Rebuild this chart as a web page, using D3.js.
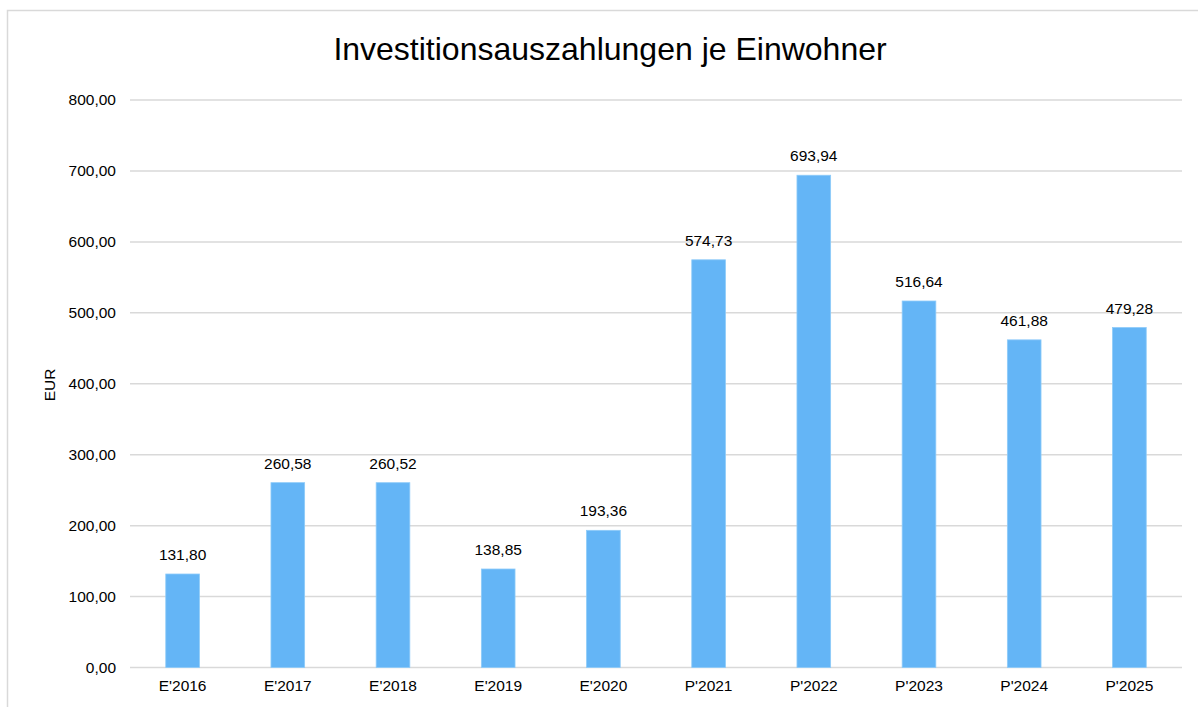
<!DOCTYPE html>
<html>
<head>
<meta charset="utf-8">
<title>Investitionsauszahlungen je Einwohner</title>
<script src="https://d3js.org/d3.v7.min.js"></script>
<style>
  body { margin: 0; background: #fff; }
  svg { font-family: "Liberation Sans", Arial, sans-serif; }
</style>
</head>
<body>
<svg id="chart" width="1198" height="707"></svg>
<script>
// data
var categories = ["E'2016", "E'2017", "E'2018", "E'2019", "E'2020", "P'2021", "P'2022", "P'2023", "P'2024", "P'2025"];
var values = [131.80, 260.58, 260.52, 138.85, 193.36, 574.73, 693.94, 516.64, 461.88, 479.28];
var yTicks = [0, 100, 200, 300, 400, 500, 600, 700, 800];

var svg = d3.select('#chart');
var fmt = function(v) { return d3.format('.2f')(v).replace('.', ','); };
var fs = 15.5;

// chart frame
svg.append('path')
  .attr('d', 'M7.5,710 V10.5 H1200')
  .attr('fill', 'none')
  .attr('stroke', '#d9d9d9')
  .attr('stroke-width', 1.5);

var x = d3.scaleBand()
  .domain(categories)
  .range([130, 1182])
  .paddingInner(0.68)
  .paddingOuter(0.34);

var y = d3.scaleLinear()
  .domain([0, 800])
  .range([667.5, 100]);

// gridlines
svg.append('g')
  .selectAll('line')
  .data(yTicks)
  .join('line')
  .attr('x1', 130)
  .attr('x2', 1182)
  .attr('y1', function(d) { return y(d); })
  .attr('y2', function(d) { return y(d); })
  .attr('stroke', '#d9d9d9')
  .attr('stroke-width', 1.5);

// y axis labels
var yAxis = d3.axisLeft(y).tickValues(yTicks).tickFormat(fmt).tickSize(0).tickPadding(14);
svg.append('g')
  .attr('transform', 'translate(130,0)')
  .call(yAxis)
  .call(function(g) { g.select('.domain').remove(); })
  .selectAll('text')
  .attr('font-size', fs)
  .attr('font-family', '"Liberation Sans", Arial, sans-serif')
  .attr('fill', '#000');

// x axis labels
var xAxis = d3.axisBottom(x).tickSize(0).tickPadding(12);
svg.append('g')
  .attr('transform', 'translate(0,667.5)')
  .call(xAxis)
  .call(function(g) { g.select('.domain').remove(); })
  .selectAll('text')
  .attr('font-size', fs)
  .attr('font-family', '"Liberation Sans", Arial, sans-serif')
  .attr('fill', '#000');

// bars
svg.append('g')
  .selectAll('rect')
  .data(values)
  .join('rect')
  .attr('x', function(d, i) { return x(categories[i]); })
  .attr('y', function(d) { return y(d); })
  .attr('width', x.bandwidth())
  .attr('height', function(d) { return y(0) - y(d); })
  .attr('fill', '#64b5f6')
  .attr('stroke', '#8ecbf9')
  .attr('stroke-width', 0.8);

// value labels
svg.append('g')
  .selectAll('text')
  .data(values)
  .join('text')
  .attr('x', function(d, i) { return x(categories[i]) + x.bandwidth() / 2; })
  .attr('y', function(d) { return y(d) - 14; })
  .attr('text-anchor', 'middle')
  .attr('font-size', fs)
  .attr('fill', '#000')
  .text(fmt);

// title
svg.append('text')
  .attr('x', 610)
  .attr('y', 60)
  .attr('text-anchor', 'middle')
  .attr('font-size', 32)
  .attr('fill', '#000')
  .text('Investitionsauszahlungen je Einwohner');

// y axis title
svg.append('text')
  .attr('transform', 'translate(55,385) rotate(-90)')
  .attr('text-anchor', 'middle')
  .attr('font-size', fs)
  .attr('fill', '#000')
  .text('EUR');
</script>
</body>
</html>
